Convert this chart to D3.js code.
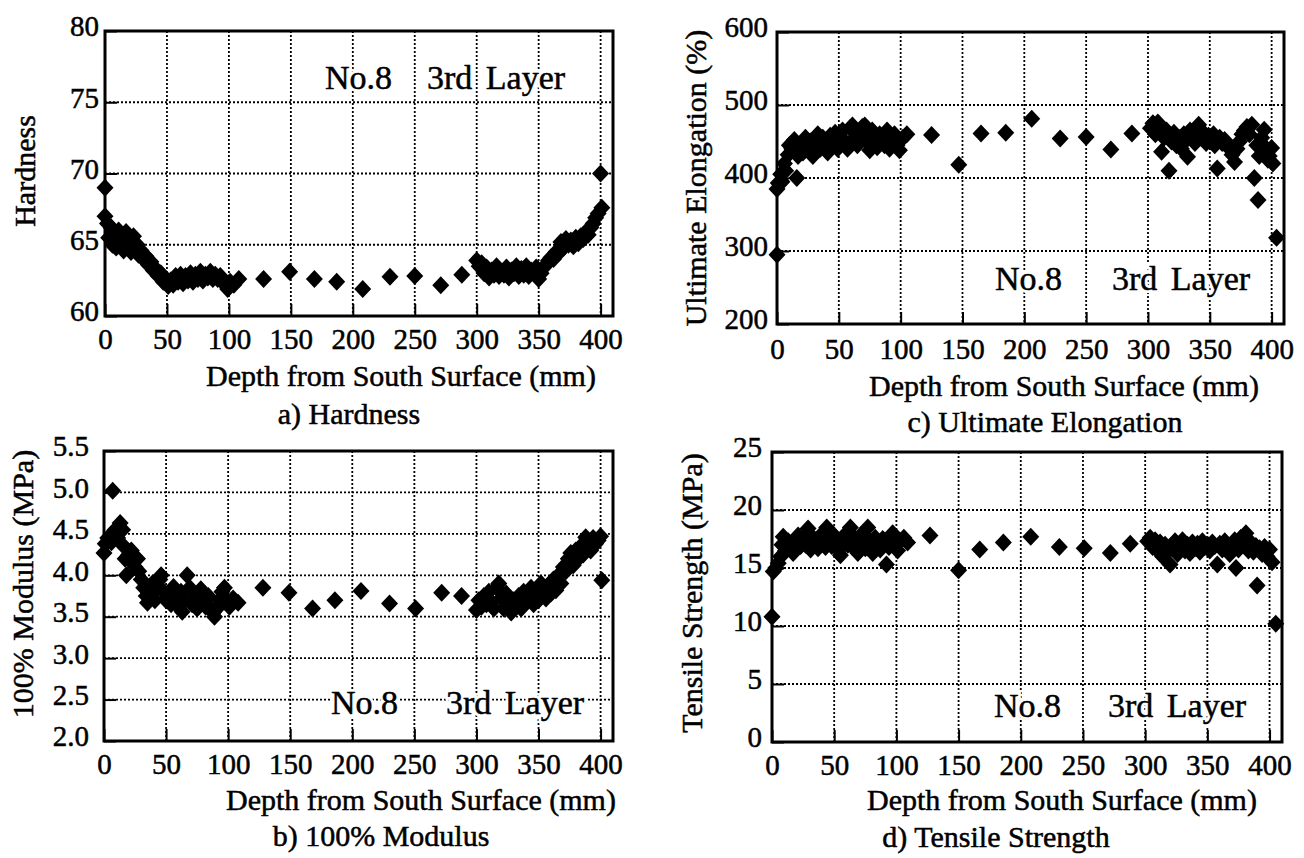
<!DOCTYPE html>
<html>
<head>
<meta charset="utf-8">
<script src="https://cdn.jsdelivr.net/npm/d3@7"></script>
<style>
  body { margin: 0; background: #fff; }
  svg text { font-family: "Liberation Serif", "Times New Roman", serif; fill: #000; }
  .ink { stroke: #000; stroke-width: 0.5px; }
</style>
</head>
<body>
<svg id="chart" width="1304" height="858"></svg>
<script>
// ---- data ----
const xTicks = [0, 50, 100, 150, 200, 250, 300, 350, 400];

const hardDepth = [0,0,2,3,5,6,8,9,11,12,14,15,17,18,20,21,23,24,26,27,29,31,33,35,37,39,41,43,45,47,49,51,53,55,57,59,61,63,65,67,69,71,73,75,77,79,81,83,85,87,89,91,93,95,97,99,101,104,
  108,128,149,169,187,208,230,250,271,288,
  300,302,304,306,308,310,312,314,316,318,320,322,324,326,328,330,332,334,336,338,340,342,344,346,348,350,352,354,356,358,360,362,364,366,368,370,372,374,376,378,380,382,384,386,388,390,392,394,396,398,400,401];
const hardValue = [69.0,67.0,66.5,65.5,66.2,65.0,65.8,64.8,66.0,65.2,65.5,64.6,65.9,65.0,65.4,64.5,65.6,64.8,65.0,64.3,64.6,64.0,64.2,63.6,63.8,63.2,63.3,62.8,63.0,62.4,62.6,62.1,62.5,62.2,62.8,62.4,62.9,62.3,62.8,62.5,63.0,62.4,62.9,62.6,63.1,62.5,62.9,62.7,63.1,62.6,62.9,62.6,62.8,62.4,62.2,61.9,62.4,62.2,
  62.6,62.6,63.1,62.6,62.4,61.9,62.75,62.8,62.15,62.9,
  63.9,63.5,63.7,63.0,63.4,62.7,63.2,62.9,63.5,62.8,63.1,62.9,63.4,62.7,63.2,63.0,63.5,62.8,63.3,62.9,63.5,62.8,63.2,63.0,63.4,62.6,63.0,63.4,63.6,63.9,64.1,64.0,64.5,64.4,65.2,64.8,65.4,65.0,65.3,64.9,65.5,65.1,65.6,65.4,65.9,65.7,66.2,66.5,66.9,67.2,70.0,67.6];

const modDepth = [0,1,3,6,7,9,11,13,15,16,17,18,20,22,23,25,27,28,30,32,34,35,37,39,41,43,45,46,48,50,52,54,56,58,60,62,63,65,67,69,71,73,75,77,78,80,82,84,86,88,89,91,93,95,97,99,101,104,108,
  128,149,168,186,207,230,251,272,288,
  300,302,304,306,308,310,312,314,316,318,320,322,324,326,328,330,332,334,336,338,340,342,344,346,348,350,352,354,356,358,360,362,364,366,368,370,372,374,376,378,380,382,384,386,388,390,392,394,396,398,400,401];
const modValue = [4.27,4.38,4.45,4.40,5.02,4.55,4.45,4.63,4.55,4.35,4.20,4.00,4.25,4.30,4.15,4.10,4.20,4.05,3.95,3.85,3.75,3.67,3.80,3.90,3.70,3.85,3.95,4.00,3.80,3.70,3.75,3.65,3.86,3.72,3.62,3.80,3.56,3.70,4.00,3.85,3.65,3.75,3.60,3.80,3.83,3.70,3.62,3.75,3.60,3.55,3.50,3.60,3.70,3.80,3.85,3.70,3.62,3.72,3.67,
  3.85,3.79,3.60,3.70,3.81,3.66,3.60,3.79,3.75,
  3.58,3.70,3.62,3.75,3.65,3.80,3.68,3.60,3.85,3.90,3.72,3.60,3.78,3.66,3.55,3.70,3.62,3.75,3.60,3.80,3.68,3.72,3.85,3.65,3.78,3.70,3.90,3.80,3.72,3.85,3.78,3.95,3.82,4.00,3.90,4.10,4.05,4.20,4.27,4.12,4.30,4.20,4.35,4.25,4.46,4.40,4.30,4.45,4.38,4.42,4.47,3.94];

const elongDepth = [0,0,1,3,4,6,7,9,10,12,14,16,17,19,21,23,25,27,29,31,33,35,37,39,41,43,45,47,49,51,53,55,57,59,61,63,65,67,69,71,73,75,77,79,81,83,85,87,89,91,93,95,97,99,102,105,
  125,147,165,185,206,229,250,270,287,
  302,304,306,308,310,311,313,315,317,319,321,323,325,327,329,331,332,334,336,338,340,341,343,345,347,349,351,353,354,356,358,360,362,364,366,368,370,372,374,376,378,380,382,384,386,388,389,390,392,394,396,397,398,400,401,404];
const elongValue = [295,385,393,405,395,420,410,432,445,440,452,400,430,445,435,455,440,450,430,448,460,440,455,445,435,458,448,462,440,455,465,450,440,468,472,455,445,462,470,472,450,438,465,455,442,460,450,445,465,440,452,460,445,438,455,460,
  459,418,461,462,481,454,456,439,461,
  468,475,460,476,470,436,455,465,410,450,462,445,455,440,460,452,429,465,458,448,470,473,455,462,448,458,450,460,445,413,455,448,452,445,440,432,422,440,450,460,465,470,460,473,400,445,370,430,455,466,440,425,430,441,420,318];

const tensDepth = [0,1,3,5,7,8,9,11,13,15,17,19,21,23,25,27,29,31,33,35,37,39,41,43,44,46,48,50,52,54,55,57,59,61,63,65,67,69,71,73,75,77,79,81,83,85,87,89,92,94,96,97,99,101,103,106,109,
  127,150,167,186,208,231,251,272,288,
  302,304,306,308,310,312,314,316,318,320,322,324,326,328,330,332,334,336,338,340,342,344,346,348,350,352,354,356,358,360,362,364,366,368,370,372,373,375,377,379,381,383,385,387,389,390,392,394,396,398,400,402,405];
const tensValue = [10.8,14.7,15.0,15.4,16.0,17.0,17.7,16.5,17.3,16.8,16.3,17.2,17.8,16.9,17.5,17.0,18.4,16.6,17.6,17.1,16.7,17.8,17.3,16.8,18.5,17.5,16.9,17.8,17.2,16.6,16.1,17.4,17.9,17.0,18.5,16.8,17.5,16.3,17.8,17.1,16.7,18.5,17.3,16.3,17.6,17.0,16.6,17.5,15.3,16.8,17.4,18.0,17.0,16.5,17.3,17.6,17.2,
  17.8,14.8,16.6,17.2,17.7,16.8,16.7,16.3,17.1,
  17.3,17.6,16.8,17.4,16.5,17.2,16.0,17.0,16.4,15.3,16.8,17.3,16.2,16.9,17.4,16.5,17.0,16.3,17.2,16.7,17.1,16.4,17.3,16.8,17.0,16.5,17.2,16.9,15.3,17.1,16.6,17.3,16.8,16.2,16.9,17.4,15.0,16.6,17.6,17.0,18.0,16.5,17.2,16.4,16.9,13.5,16.7,16.2,16.8,16.0,16.6,15.5,10.2];

// ---- panel layout ----
const panels = [
  { left: 105, right: 613, top: 31, bottom: 316, yDomain: [60, 80], yTicks: [60, 65, 70, 75, 80], fmt: d3.format("d"), yPad: 6,
    depth: hardDepth, values: hardValue, yTitle: "Hardness", yTitleX: 35, yTitleY: 171,
    xTitleX: 401, xTitleY: 386, sub: "a) Hardness", subX: 349, subY: 424, tickY: 12,
    noteY: 89, noteX1: 325, noteX2: 427 },
  { left: 104, right: 613, top: 451, bottom: 741, yDomain: [2, 5.5], yTicks: [2, 2.5, 3, 3.5, 4, 4.5, 5, 5.5], fmt: d3.format(".1f"), yPad: 15,
    depth: modDepth, values: modValue, yTitle: "100% Modulus (MPa)", yTitleX: 33, yTitleY: 584,
    xTitleX: 421, xTitleY: 810, sub: "b) 100% Modulus", subX: 381, subY: 846, tickY: 12,
    noteY: 714, noteX1: 331, noteX2: 446 },
  { left: 777, right: 1284, top: 32, bottom: 324, yDomain: [200, 600], yTicks: [200, 300, 400, 500, 600], fmt: d3.format("d"), yPad: 9,
    depth: elongDepth, values: elongValue, yTitle: "Ultimate Elongation (%)", yTitleX: 706, yTitleY: 178,
    xTitleX: 1064, xTitleY: 396, sub: "c) Ultimate Elongation", subX: 1045, subY: 432, tickY: 14,
    noteY: 290, noteX1: 995, noteX2: 1112 },
  { left: 772, right: 1282, top: 452, bottom: 742, yDomain: [0, 25], yTicks: [0, 5, 10, 15, 20, 25], fmt: d3.format("d"), yPad: 10,
    depth: tensDepth, values: tensValue, yTitle: "Tensile Strength (MPa)", yTitleX: 702, yTitleY: 593,
    xTitleX: 1062, xTitleY: 810, sub: "d) Tensile Strength", subX: 996, subY: 847, tickY: 12,
    noteY: 717, noteX1: 994, noteX2: 1108 }
];

const svg = d3.select("#chart");
const diamond = "M0,-9L8.5,0L0,9L-8.5,0Z";

panels.forEach(p => {
  const x = d3.scaleLinear().domain([0, 410]).range([p.left, p.right]);
  const y = d3.scaleLinear().domain(p.yDomain).range([p.bottom, p.top]);
  const g = svg.append("g");

  // dotted grid
  g.append("g").selectAll("line").data(xTicks.filter(t => t > 0))
    .join("line")
    .attr("x1", d => x(d)).attr("x2", d => x(d))
    .attr("y1", p.top).attr("y2", p.bottom)
    .attr("stroke", "#000").attr("stroke-width", 1.8).attr("stroke-dasharray", "2,2");
  g.append("g").selectAll("line").data(p.yTicks.slice(1, -1))
    .join("line")
    .attr("x1", p.left).attr("x2", p.right)
    .attr("y1", d => y(d)).attr("y2", d => y(d))
    .attr("stroke", "#000").attr("stroke-width", 1.8).attr("stroke-dasharray", "2,2");

  // annotation: white halo over the grid, then the text itself
  [["#fff", 6], ["#000", 0.5]].forEach(([col, w]) => {
    const note = g.append("g").attr("font-size", 34).attr("stroke", col).attr("stroke-width", w);
    note.append("text").attr("x", p.noteX1).attr("y", p.noteY).text("No.8");
    note.append("text").attr("x", p.noteX2).attr("y", p.noteY).attr("word-spacing", 5).text("3rd Layer");
  });

  // points
  g.append("g").selectAll("path").data(p.depth.map((d, i) => [d, p.values[i]]))
    .join("path")
    .attr("d", diamond)
    .attr("transform", d => `translate(${x(d[0])},${y(d[1])})`)
    .attr("fill", "#000");

  // axes: inner solid ticks and labels
  const ax = g.append("g").attr("transform", `translate(0,${p.bottom})`)
    .call(d3.axisBottom(x).tickValues(xTicks).tickSize(-12).tickPadding(p.tickY).tickFormat(d3.format("d")));
  const ay = g.append("g").attr("transform", `translate(${p.left},0)`)
    .call(d3.axisLeft(y).tickValues(p.yTicks).tickSize(-12).tickPadding(p.yPad).tickFormat(p.fmt));
  [ax, ay].forEach(a => {
    a.attr("font-family", null);
    a.select(".domain").remove();
    a.selectAll(".tick line").attr("stroke", "#000").attr("stroke-width", 2);
    a.selectAll(".tick text").attr("font-size", 29).attr("class", "ink");
  });
  ay.selectAll(".tick text").attr("dy", "0.17em");

  // frame
  g.append("rect")
    .attr("x", p.left).attr("y", p.top)
    .attr("width", p.right - p.left).attr("height", p.bottom - p.top)
    .attr("fill", "none").attr("stroke", "#000").attr("stroke-width", 3);

  // titles
  g.append("text").attr("class", "ink").attr("x", p.xTitleX).attr("y", p.xTitleY)
    .attr("text-anchor", "middle").attr("font-size", 30)
    .text("Depth from South Surface (mm)");
  g.append("text").attr("class", "ink").attr("x", p.subX).attr("y", p.subY)
    .attr("text-anchor", "middle").attr("font-size", 30)
    .text(p.sub);
  g.append("text").attr("class", "ink")
    .attr("transform", `translate(${p.yTitleX},${p.yTitleY}) rotate(-90)`)
    .attr("text-anchor", "middle").attr("font-size", 30)
    .text(p.yTitle);
});
</script>
</body>
</html>
